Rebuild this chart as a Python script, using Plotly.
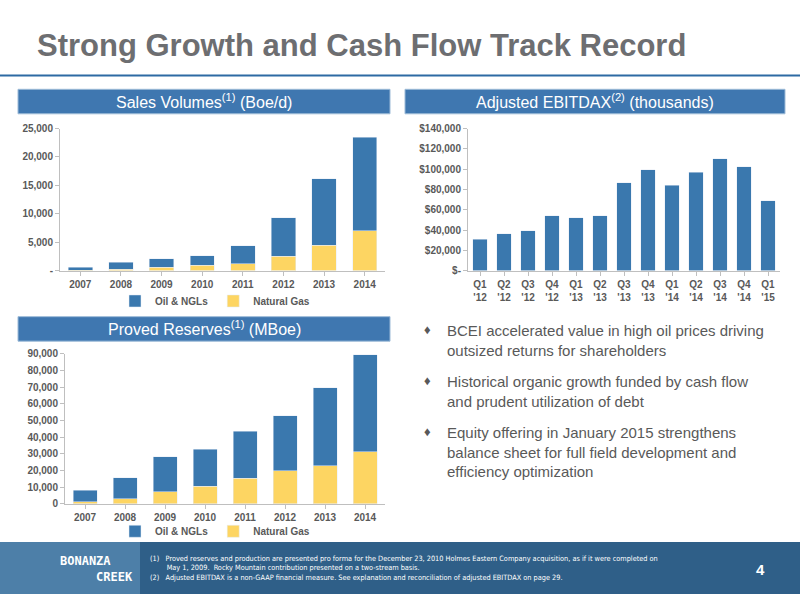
import plotly.graph_objects as go

years = ["2007","2008","2009","2010","2011","2012","2013","2014"]
sales_total = [600,1500,2100,2600,4400,9300,16200,23500]
sales_gas = [100,250,550,900,1200,2500,4500,7000]
sales_oil = [t-g for t,g in zip(sales_total, sales_gas)]
res_total = [8200,15600,28200,32800,43700,53000,69700,89500]
res_gas = [1200,3200,7200,10500,15300,19800,23000,31300]
res_oil = [t-g for t,g in zip(res_total, res_gas)]
quarters = ["Q1<br>'12","Q2<br>'12","Q3<br>'12","Q4<br>'12","Q1<br>'13","Q2<br>'13","Q3<br>'13","Q4<br>'13","Q1<br>'14","Q2<br>'14","Q3<br>'14","Q4<br>'14","Q1<br>'15"]
ebitdax = [31000,36500,39500,54000,52000,54000,86500,99500,84000,97000,110000,102500,69000]

BLUE = "#3a78ae"; GOLD = "#fdd562"; GRAY = "#595959"
W, H = 800, 600
def px(x): return x / W
def py(y): return 1 - y / H

fig = go.Figure()
fig.add_trace(go.Bar(x=years, y=sales_gas, name="Natural Gas", marker_color=GOLD, xaxis="x", yaxis="y", legend="legend", legendrank=2))
fig.add_trace(go.Bar(x=years, y=sales_oil, name="Oil & NGLs", marker_color=BLUE, xaxis="x", yaxis="y", legend="legend", legendrank=1))
fig.add_trace(go.Bar(x=quarters, y=ebitdax, marker_color=BLUE, xaxis="x2", yaxis="y2", showlegend=False))
fig.add_trace(go.Bar(x=years, y=res_gas, name="Natural Gas", marker_color=GOLD, xaxis="x3", yaxis="y3", legend="legend2", legendrank=2))
fig.add_trace(go.Bar(x=years, y=res_oil, name="Oil & NGLs", marker_color=BLUE, xaxis="x3", yaxis="y3", legend="legend2", legendrank=1))

tickf = dict(family="Liberation Sans", size=10, color=GRAY, weight="bold")
axcommon = dict(showgrid=False, zeroline=False, showline=True, linecolor="#bfbfbf", ticks="outside", tickcolor="#bfbfbf", ticklen=4, tickfont=tickf)
legf = dict(family="Liberation Sans", size=10, color=GRAY, weight="bold")
fig.update_layout(
    width=W, height=H, margin=dict(l=0, r=0, t=0, b=0), paper_bgcolor="white", plot_bgcolor="white",
    barmode="stack", bargap=0.4,
    xaxis=dict(domain=[px(60), px(385)], anchor="y", **axcommon),
    yaxis=dict(domain=[py(270), py(125)], anchor="x", range=[0, 25000], **axcommon),
    xaxis2=dict(domain=[px(468), px(780)], anchor="y2", **axcommon),
    yaxis2=dict(domain=[py(270), py(125)], anchor="x2", range=[0, 140000], **axcommon),
    xaxis3=dict(domain=[px(65), px(385)], anchor="y3", **axcommon),
    yaxis3=dict(domain=[py(508), py(355)], anchor="x3", range=[0, 90000], dtick=10000, tickformat=",", **axcommon),
    legend=dict(orientation="h", x=px(215), xanchor="center", y=py(301), yanchor="middle", font=legf, traceorder="normal", bgcolor="rgba(0,0,0,0)", itemwidth=30),
    legend2=dict(orientation="h", x=px(215), xanchor="center", y=py(536), yanchor="middle", font=legf, traceorder="normal", bgcolor="rgba(0,0,0,0)", itemwidth=30),
    font=dict(family="Liberation Sans"),
)
fig.update_layout(
    yaxis=dict(tickvals=[0,5000,10000,15000,20000,25000], ticktext=["-","5,000","10,000","15,000","20,000","25,000"]),
    yaxis2=dict(tickvals=list(range(0,140001,20000)), ticktext=["$-"]+[f"${v:,}" for v in range(20000,140001,20000)]),
)

hdrline = dict(color="#9dbbd8", width=1)
shapes = [
    dict(type="rect", xref="paper", yref="paper", x0=0, x1=1, y0=py(72), y1=py(70), fillcolor="#2d6aa3", line_width=0),
    dict(type="rect", xref="paper", yref="paper", x0=px(18), x1=px(390), y0=py(110), y1=py(85), fillcolor="#3f77b0", line=hdrline),
    dict(type="rect", xref="paper", yref="paper", x0=px(405), x1=px(785), y0=py(110), y1=py(85), fillcolor="#3f77b0", line=hdrline),
    dict(type="rect", xref="paper", yref="paper", x0=px(18), x1=px(390), y0=py(342), y1=py(317), fillcolor="#3f77b0", line=hdrline),
    dict(type="rect", xref="paper", yref="paper", x0=0, x1=1, y0=0, y1=py(547), fillcolor="#2f5f88", line_width=0),
    dict(type="rect", xref="paper", yref="paper", x0=0, x1=px(140), y0=0, y1=py(547), fillcolor="#4d7fa8", line_width=0),
]
fig.update_layout(shapes=shapes)

hdr = dict(family="Liberation Sans", size=16, color="white")
ann = [
    dict(x=px(35), y=py(40), text="<b>Strong Growth and Cash Flow Track Record</b>", font=dict(family="Liberation Sans", size=31, color="#6d6e71"), xanchor="left", yanchor="middle"),
    dict(x=px(204), y=py(97), text="Sales Volumes<sup>(1)</sup> (Boe/d)", font=hdr),
    dict(x=px(595), y=py(97), text="Adjusted EBITDAX<sup>(2)</sup> (thousands)", font=hdr),
    dict(x=px(204), y=py(329), text="Proved Reserves<sup>(1)</sup> (MBoe)", font=hdr),
]
bullets = [
    (330, "BCEI accelerated value in high oil prices driving<br>outsized returns for shareholders"),
    (382, "Historical organic growth funded by cash flow<br>and prudent utilization of debt"),
    (434, "Equity offering in January 2015 strengthens<br>balance sheet for full field development and<br>efficiency optimization"),
]
for y, t in bullets:
    ann.append(dict(x=px(422), y=py(y), text="♦", font=dict(size=13, color=GRAY), xanchor="left", yanchor="middle"))
    ann.append(dict(x=px(445), y=py(y - 10), text=t, font=dict(family="Liberation Sans", size=15, color=GRAY), xanchor="left", yanchor="top", align="left"))
ann += [
    dict(x=px(58), y=py(557), text="<b>BONANZA<br>     CREEK</b>", font=dict(family="DejaVu Sans Mono", size=12, color="white"), xanchor="left", yanchor="top", align="left"),
    dict(x=px(148), y=py(557), text="(1)   Proved reserves and production are presented pro forma for the December 23, 2010 Holmes Eastern Company acquisition, as if it were completed on<br>        May 1, 2009.  Rocky Mountain contribution presented on a two-stream basis.<br>(2)   Adjusted EBITDAX is a non-GAAP financial measure. See explanation and reconciliation of adjusted EBITDAX on page 29.", font=dict(family="DejaVu Sans Condensed", size=7.3, color="white"), xanchor="left", yanchor="top", align="left"),
    dict(x=px(760), y=py(575), text="<b>4</b>", font=dict(family="Liberation Sans", size=15, color="white")),
]
for a in ann:
    a.setdefault("xref", "paper"); a.setdefault("yref", "paper"); a.setdefault("showarrow", False)
    a.setdefault("xanchor", "center"); a.setdefault("yanchor", "middle")
fig.update_layout(annotations=ann)
fig.write_html("out.html", config={"displayModeBar": False}, post_script="document.body.style.margin='0';document.body.style.overflow='hidden';")
